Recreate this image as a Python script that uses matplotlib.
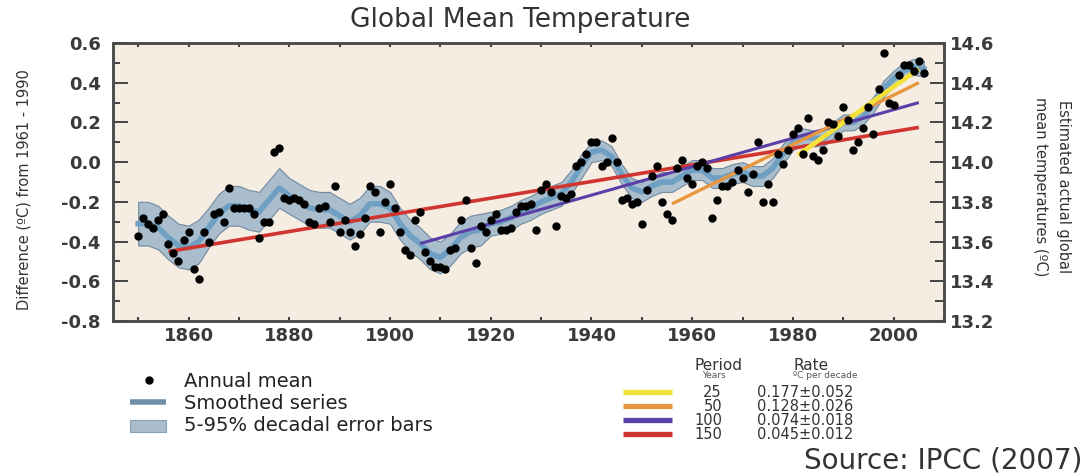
import numpy as np
import matplotlib
matplotlib.use('Agg')
import matplotlib.pyplot as plt
from matplotlib.ticker import MultipleLocator
from matplotlib.patches import Rectangle

plt.rcParams.update({
    'font.family': 'DejaVu Sans',
    'axes.unicode_minus': False,
})

# Annual global mean anomalies (degC, relative to 1961-1990)
years = list(range(1850, 2007))
annual = [
    -0.37, -0.28, -0.31, -0.33, -0.29, -0.26, -0.41, -0.46, -0.50, -0.39,
    -0.35, -0.54, -0.59, -0.35, -0.40, -0.26, -0.25, -0.30, -0.13, -0.23,
    -0.23, -0.23, -0.23, -0.26, -0.38, -0.30, -0.30, 0.05, 0.07, -0.18,
    -0.19, -0.18, -0.19, -0.21, -0.30, -0.31, -0.23, -0.22, -0.30, -0.12,
    -0.35, -0.29, -0.35, -0.42, -0.36, -0.28, -0.12, -0.15, -0.35, -0.20,
    -0.11, -0.23, -0.35, -0.44, -0.47, -0.29, -0.25, -0.45, -0.50, -0.53,
    -0.53, -0.54, -0.44, -0.43, -0.29, -0.19, -0.43, -0.51, -0.32, -0.35,
    -0.29, -0.26, -0.34, -0.34, -0.33, -0.25, -0.22, -0.22, -0.21, -0.34,
    -0.14, -0.11, -0.15, -0.32, -0.17, -0.18, -0.16, -0.02, 0.00, 0.04,
    0.10, 0.10, -0.02, 0.00, 0.12, 0.00, -0.19, -0.18, -0.21, -0.20,
    -0.31, -0.14, -0.07, -0.02, -0.20, -0.26, -0.29, -0.03, 0.01, -0.08,
    -0.11, -0.02, 0.00, -0.03, -0.28, -0.19, -0.12, -0.12, -0.10, -0.04,
    -0.08, -0.15, -0.06, 0.10, -0.20, -0.11, -0.20, 0.04, -0.01, 0.06,
    0.14, 0.17, 0.04, 0.22, 0.03, 0.01, 0.06, 0.20, 0.19, 0.13,
    0.28, 0.21, 0.06, 0.10, 0.17, 0.28, 0.14, 0.37, 0.55, 0.30,
    0.29, 0.44, 0.49, 0.49, 0.46, 0.51, 0.45,
]

# Smoothed (decadal) series and 5-95% half-width, every second year
smooth_years = list(range(1850, 2007, 2))
smooth = [
    -0.31, -0.31, -0.33, -0.38, -0.42, -0.43, -0.40, -0.33, -0.26, -0.22,
    -0.22, -0.24, -0.25, -0.19, -0.13, -0.17, -0.20, -0.23, -0.24, -0.24,
    -0.27, -0.30, -0.27, -0.21, -0.21, -0.23, -0.31, -0.37, -0.41, -0.46,
    -0.48, -0.44, -0.38, -0.35, -0.34, -0.31, -0.30, -0.28, -0.25, -0.23,
    -0.20, -0.18, -0.16, -0.10, -0.02, 0.05, 0.06, 0.03, -0.06, -0.13,
    -0.15, -0.12, -0.10, -0.10, -0.07, -0.04, -0.04, -0.08, -0.08, -0.06,
    -0.05, -0.07, -0.07, -0.03, 0.04, 0.10, 0.13, 0.12, 0.12, 0.16,
    0.20, 0.20, 0.23, 0.29, 0.37, 0.42, 0.46, 0.48, 0.47,
]
smooth_err = [
    0.11, 0.11, 0.11, 0.11, 0.11, 0.11, 0.11,
    0.10, 0.10, 0.10, 0.10, 0.10, 0.10, 0.10, 0.10,
    0.09, 0.09, 0.09, 0.09, 0.09, 0.09, 0.09, 0.09, 0.09, 0.09,
    0.08, 0.08, 0.08, 0.08, 0.08, 0.08, 0.08, 0.08, 0.08, 0.08,
    0.06, 0.06, 0.06, 0.06, 0.06, 0.06, 0.06, 0.06, 0.06, 0.06,
    0.05, 0.05, 0.05, 0.05, 0.05, 0.05, 0.05, 0.05, 0.05, 0.05,
    0.05, 0.05, 0.05, 0.05, 0.05, 0.05, 0.05, 0.05, 0.05, 0.05,
    0.04, 0.04, 0.04, 0.04, 0.04, 0.04, 0.04, 0.04, 0.04, 0.04,
    0.04, 0.04, 0.04, 0.04,
]

# Linear trends, all ending in 2005
trend_periods = [25, 50, 100, 150]
trend_rates = ['0.177\u00b10.052', '0.128\u00b10.026', '0.074\u00b10.018', '0.045\u00b10.012']
trend_start = [1981, 1956, 1906, 1856]
trend_end = [2005, 2005, 2005, 2005]
trend_y0 = [0.035, -0.21, -0.41, -0.45]
trend_y1 = [0.47, 0.40, 0.30, 0.175]
trend_colors = ['#f3e23a', '#e8973f', '#5b3fa8', '#d0352f']
trend_lw = [3.4, 2.4, 2.2, 2.6]

x_ticks = [1860, 1880, 1900, 1920, 1940, 1960, 1980, 2000]
y_ticks = [0.6, 0.4, 0.2, 0.0, -0.2, -0.4, -0.6, -0.8]
y2_ticks = [14.6, 14.4, 14.2, 14.0, 13.8, 13.6, 13.4, 13.2]

W, H = 1085, 473
fig = plt.figure(figsize=(W / 100, H / 100), dpi=100)
fig.patch.set_facecolor('white')
ax = fig.add_axes([113 / W, 1 - 321 / H, 831 / W, 278 / H])
ax.set_facecolor('#f5ece2')

sm = np.array(smooth)
err = np.array(smooth_err)
ax.fill_between(smooth_years, sm - err, sm + err, facecolor='#a9bdcc',
                edgecolor='#718aa0', lw=0.8, zorder=1)
ax.plot(smooth_years, sm, color='#6f9fc2', lw=4, zorder=2)

for i in reversed(range(len(trend_periods))):
    ax.plot([trend_start[i], trend_end[i]], [trend_y0[i], trend_y1[i]],
            color=trend_colors[i], lw=trend_lw[i], solid_capstyle='butt', zorder=3)

ax.plot(years, annual, 'o', color='black', ms=5, zorder=4)

ax.set_xlim(1845, 2010)
ax.set_ylim(-0.8, 0.6)
ax.set_xticks(x_ticks, [str(v) for v in x_ticks], fontweight='bold', color='#3a3a3a')
ax.set_yticks(y_ticks, ['%.1f' % v for v in y_ticks], fontweight='bold', color='#3a3a3a')
ax.xaxis.set_minor_locator(MultipleLocator(10))
ax.yaxis.set_minor_locator(MultipleLocator(0.1))
ax.tick_params(axis='x', which='both', direction='in', length=3, width=1.5,
               top=True, pad=4, labelsize=13, color='#444444')
ax.tick_params(axis='y', which='major', direction='in', length=11, width=1.4,
               pad=9, labelsize=13, color='#444444')
ax.tick_params(axis='y', which='minor', direction='in', length=5, width=1.4, color='#444444')

ax2 = ax.twinx()
ax2.set_ylim(13.2, 14.6)
ax2.set_yticks(y2_ticks, ['%.1f' % v for v in y2_ticks], fontweight='bold', color='#3a3a3a')
ax2.yaxis.set_minor_locator(MultipleLocator(0.1))
ax2.tick_params(axis='y', which='major', direction='in', length=10, width=1.4,
                pad=4, labelsize=13, color='#444444')
ax2.tick_params(axis='y', which='minor', direction='in', length=6.5, width=1.4, color='#444444')

for a in (ax, ax2):
    for s in a.spines.values():
        s.set_color('#4a4a4a')
        s.set_linewidth(1.8)

fig.text(520 / W, 1 - 20 / H, 'Global Mean Temperature', ha='center', va='center',
         fontsize=19, color='#333333')
fig.text(24 / W, 1 - 190 / H, 'Difference (\u00baC) from 1961 - 1990', rotation=90,
         ha='center', va='center', fontsize=10.5, color='#333333')
fig.text(1052 / W, 1 - 187 / H, 'Estimated actual global\nmean temperatures (\u00baC)',
         rotation=270, ha='center', va='center', fontsize=10.5, linespacing=1.7,
         color='#333333')
fig.text(1082 / W, 1 - 460 / H, 'Source: IPCC (2007)', ha='right', va='center',
         fontsize=20, color='#333333')

# Legends drawn on an overlay in pixel units
ov = fig.add_axes([0, 0, 1, 1], zorder=5)
ov.set_xlim(0, W)
ov.set_ylim(H, 0)
ov.axis('off')

ov.plot([149], [380], 'o', color='black', ms=5)
ov.plot([130, 166], [402, 402], color='#6f8fa8', lw=4, solid_capstyle='butt')
ov.add_patch(Rectangle((130, 420), 36, 12, facecolor='#a9bdcc', edgecolor='#8aa2b5', lw=0.8))
for y, lab in zip([381, 403, 425], ['Annual mean', 'Smoothed series', '5-95% decadal error bars']):
    ov.text(184, y, lab, va='center', ha='left', fontsize=14, color='#222222')

ov.text(718, 365, 'Period', ha='center', va='center', fontsize=11, color='#333333')
ov.text(811, 365, 'Rate', ha='center', va='center', fontsize=11, color='#333333')
ov.text(714, 375, 'Years', ha='center', va='center', fontsize=6.5, color='#555555')
ov.text(825, 375, '\u00baC per decade', ha='center', va='center', fontsize=6.5, color='#555555')
for i, (p, r, c) in enumerate(zip(trend_periods, trend_rates, trend_colors)):
    y = 392 + 14 * i
    ov.plot([623, 672], [y, y], color=c, lw=3.8, solid_capstyle='butt')
    ov.text(722, y, str(p), ha='right', va='center', fontsize=10.5, color='#333333')
    ov.text(757, y, r, ha='left', va='center', fontsize=10.5, color='#333333')

fig.savefig('out.png', dpi=100)
